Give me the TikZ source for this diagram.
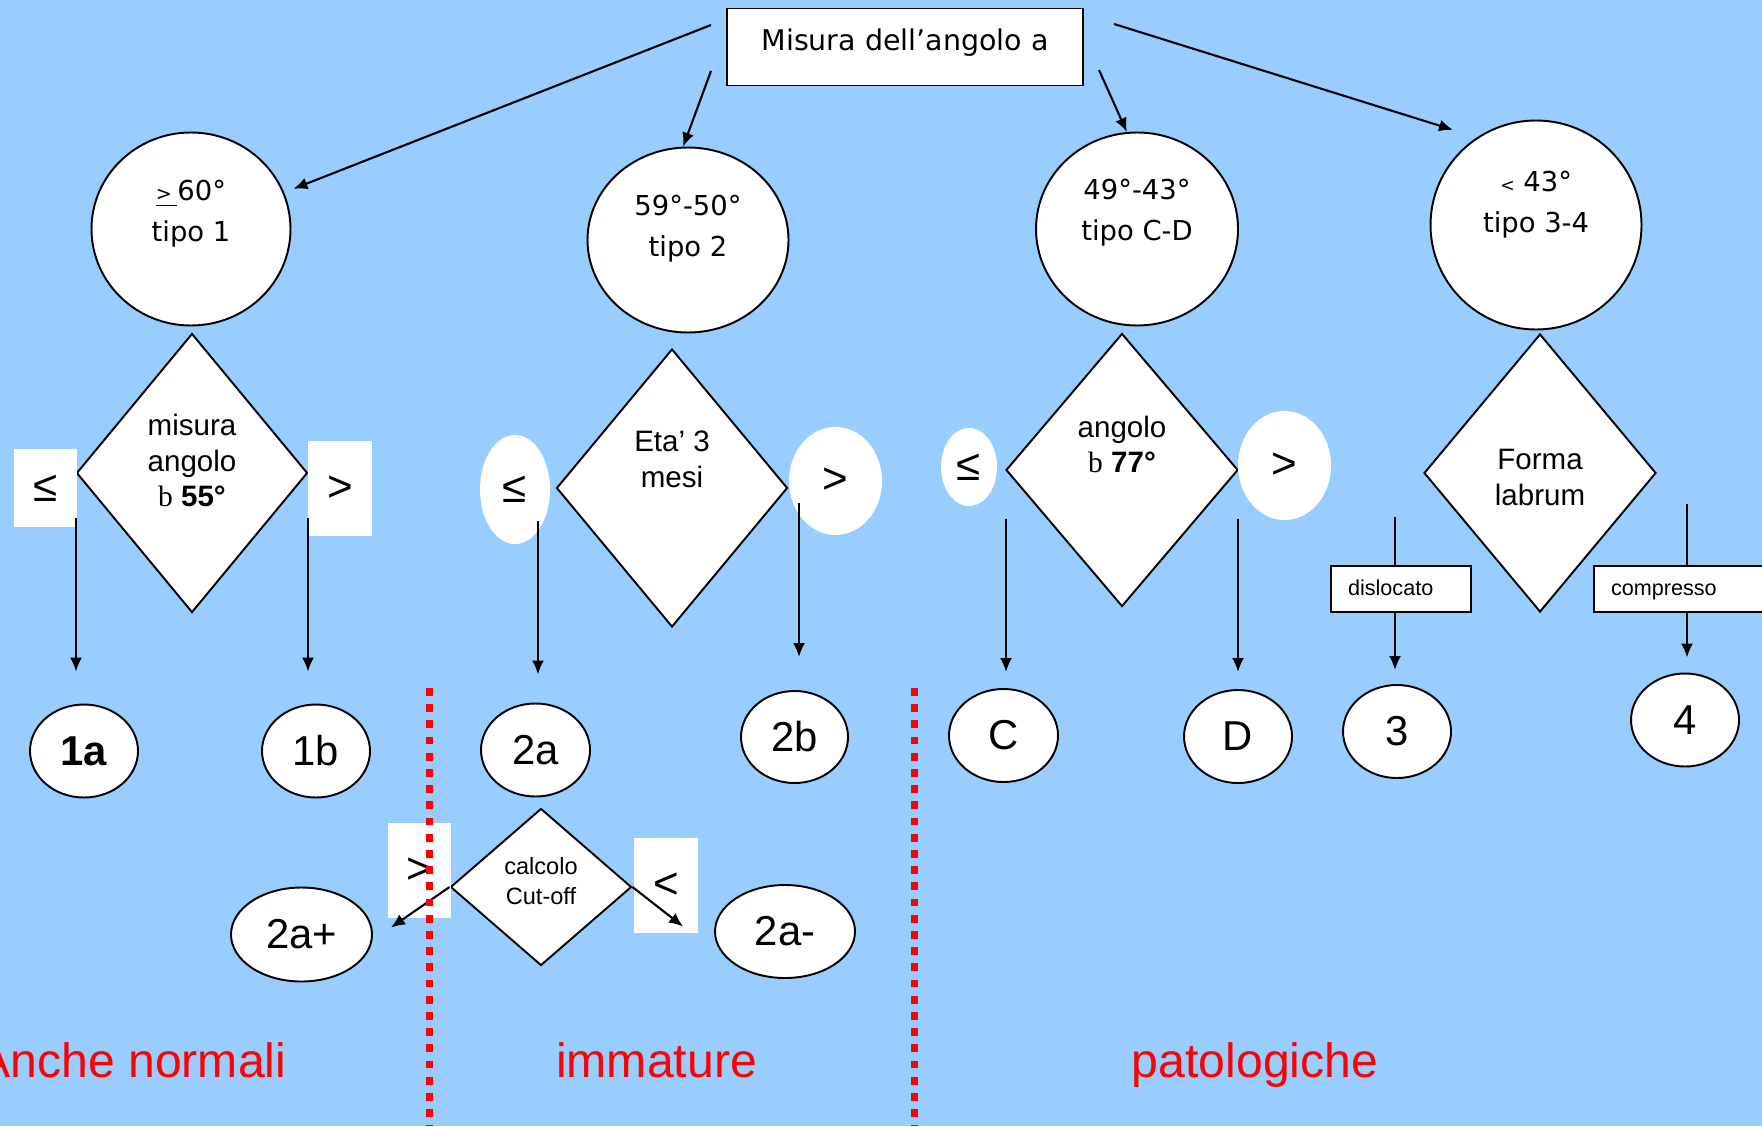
\documentclass[tikz,border=0pt]{standalone}
\usepackage{fontspec}
\setmainfont{Liberation Sans}
\newfontfamily\verdana{DejaVu Sans}
\newfontfamily\symfont{Liberation Serif}
\usetikzlibrary{arrows.meta,shapes.geometric}

\definecolor{sky}{RGB}{153,204,255}

\tikzset{
  shape line/.style={draw=black, fill=white, line width=0.55pt},
  titlebox/.style={shape line, inner sep=0pt, minimum width=3.56cm, minimum height=0.77cm},
  ring/.style={ellipse, shape line, inner sep=0pt},
  choice/.style={diamond, shape line, inner sep=0pt},
  oval/.style={ellipse, shape line, inner sep=0pt, minimum width=1.08cm, minimum height=0.93cm, font=\fontsize{11.9}{12}\selectfont},
  wideoval/.style={oval, minimum width=1.41cm, minimum height=0.94cm},
  sign/.style={fill=white, inner sep=0pt, font=\fontsize{12.5}{13}\selectfont},
  signoval/.style={sign, ellipse},
  tagbox/.style={shape line, inner xsep=0.17cm, inner ysep=0pt, minimum height=0.46cm, text height=0.12cm, text depth=0pt, align=left, font=\fontsize{6.15}{7}\selectfont},
  ringtext/.style={align=center, font=\verdana\fontsize{7.8}{11.7}\selectfont},
  choicetext/.style={align=center, font=\fontsize{8.4}{10.2}\selectfont},
  arr/.style={-{Latex[length=0.14cm,width=0.12cm]}, line width=0.6pt},
  wire/.style={line width=0.6pt},
  divider/.style={red, line width=0.07cm, dash pattern=on 0.077cm off 0.085cm},
  zone/.style={red, inner sep=0pt, font=\fontsize{13.7}{14}\selectfont, anchor=base},
}

\begin{document}
\begin{tikzpicture}
  \useasboundingbox (0,0) rectangle (17.62,-11.26);
  \fill[sky] (0,0) rectangle (17.62,-11.26);
  \clip (0,0) rectangle (17.62,-11.26);

  % first question
  \node[titlebox, label={[name=toptxt, font=\verdana\fontsize{8.1}{9}\selectfont, yshift=0.045cm]center:Misura dell’angolo a}] (top) at (9.05,-0.47) {};

  % classes of the angle
  \node[ring, minimum width=1.99cm, minimum height=1.93cm,
    label={[name=c1txt, ringtext, yshift=0.15cm]center:{\underline{{\fontsize{5.5}{6}\selectfont >}\kern1.5pt}60°\\tipo 1}}] (c1) at (1.91,-2.29) {};
  \node[ring, minimum width=2.01cm, minimum height=1.85cm,
    label={[name=c2txt, ringtext, yshift=0.115cm]center:{59°-50°\\tipo 2}}] (c2) at (6.88,-2.40) {};
  \node[ring, minimum width=2.02cm, minimum height=1.93cm,
    label={[name=c3txt, ringtext, yshift=0.16cm]center:{49°-43°\\tipo C-D}}] (c3) at (11.37,-2.29) {};
  \node[ring, minimum width=2.11cm, minimum height=2.09cm,
    label={[name=c4txt, ringtext, yshift=0.20cm]center:{{\fontsize{5}{6}\selectfont <} 43°\\tipo 3-4}}] (c4) at (15.36,-2.25) {};

  % second questions
  \node[choice, minimum width=2.31cm, minimum height=2.79cm,
    label={[name=d1txt, choicetext, yshift=0.125cm]center:{misura\\angolo\\{\symfont b} \textbf{55°}}}] (d1) at (1.92,-4.73) {};
  \node[choice, minimum width=2.31cm, minimum height=2.78cm,
    label={[name=d2txt, choicetext, yshift=0.29cm]center:{Eta’ 3\\mesi}}] (d2) at (6.72,-4.88) {};
  \node[choice, minimum width=2.32cm, minimum height=2.73cm,
    label={[name=d3txt, choicetext, yshift=0.255cm]center:{angolo\\{\symfont b} \textbf{77°}}}] (d3) at (11.22,-4.70) {};
  \node[choice, minimum width=2.32cm, minimum height=2.78cm,
    label={[name=d4txt, choicetext, yshift=-0.045cm]center:{Forma\\labrum}}] (d4) at (15.40,-4.73) {};
  \node[choice, minimum width=1.81cm, minimum height=1.57cm,
    label={[name=d5txt, align=center, font=\fontsize{6.7}{8.5}\selectfont, yshift=0.055cm]center:{calcolo\\Cut-off}}] (d5) at (5.41,-8.87) {};

  % branch signs
  \node[sign, minimum width=0.63cm, minimum height=0.78cm] (le1) at (0.455,-4.88) {≤};
  \node[sign, minimum width=0.64cm, minimum height=0.95cm] (gt1) at (3.40,-4.885) {>};
  \node[signoval, minimum width=0.70cm, minimum height=1.09cm] (le2) at (5.15,-4.895) {≤};
  \node[signoval, minimum width=0.93cm, minimum height=1.08cm] (gt2) at (8.355,-4.81) {>};
  \node[signoval, minimum width=0.56cm, minimum height=0.78cm] (le3) at (9.69,-4.67) {≤};
  \node[signoval, minimum width=0.93cm, minimum height=1.09cm] (gt3) at (12.845,-4.655) {>};
  \node[sign, minimum width=0.63cm, minimum height=0.95cm] (gt4) at (4.195,-8.705) {>};
  \node[sign, minimum width=0.64cm, minimum height=0.95cm] (lt4) at (6.66,-8.855) {<};
  \node[tagbox, text width=1.06cm] (disl) at (14.01,-5.89) {dislocato};
  \node[tagbox, text width=1.56cm] (comp) at (16.89,-5.89) {compresso};

  % outcomes
  \node[oval] (o1a) at (0.84,-7.51) {\textbf{1a}};
  \node[oval] (o1b) at (3.16,-7.51) {1b};
  \node[oval, minimum width=1.09cm] (o2a) at (5.355,-7.50) {2a};
  \node[oval, minimum width=1.07cm, minimum height=0.92cm] (o2b) at (7.945,-7.37) {2b};
  \node[oval, minimum width=1.09cm] (oc) at (10.035,-7.355) {C};
  \node[oval] (od) at (12.38,-7.365) {D};
  \node[oval] (o3) at (13.97,-7.315) {3};
  \node[oval] (o4) at (16.85,-7.20) {4};
  \node[wideoval] (o2ap) at (3.015,-9.345) {2a+};
  \node[wideoval, minimum width=1.40cm, minimum height=0.93cm] (o2am) at (7.85,-9.315) {2a-};

  % arrows from the first question
  \coordinate (s1) at (7.11,-0.25);
  \coordinate (s2) at (7.11,-0.71);
  \coordinate (s3) at (10.99,-0.70);
  \coordinate (s4) at (11.14,-0.24);
  \draw[arr, shorten >=0.1cm] (s1) -- (c1);
  \draw[arr] (s2) -- (c2.93);
  \draw[arr] (s3) -- (c3.96);
  \draw[arr, shorten >=0.25cm] (s4) -- (c4.124);

  % drops to the outcomes
  \coordinate (b1) at (0.76,-5.18);
  \coordinate (b2) at (3.08,-5.18);
  \coordinate (b3) at (5.38,-5.21);
  \coordinate (b4) at (7.99,-5.03);
  \coordinate (b5) at (10.06,-5.19);
  \coordinate (b6) at (12.38,-5.19);
  \coordinate (b7) at (13.95,-5.17);
  \coordinate (b8) at (16.87,-5.04);
  \draw[arr, shorten >=0.32cm] (b1) -- (b1 |- o1a.north);
  \draw[arr, shorten >=0.32cm] (b2) -- (b2 |- o1b.north);
  \draw[arr, shorten >=0.28cm] (b3) -- (b3 |- o2a.north);
  \draw[arr, shorten >=0.33cm] (b4) -- (b4 |- o2b.north);
  \draw[arr, shorten >=0.16cm] (b5) -- (b5 |- oc.north);
  \draw[arr, shorten >=0.17cm] (b6) -- (b6 |- od.north);
  \draw[wire] (b7) -- (b7 |- disl.north);
  \draw[arr, shorten >=0.14cm] (b7 |- disl.south) -- (b7 |- o3.north);
  \draw[wire] (b8) -- (b8 |- comp.north);
  \draw[arr, shorten >=0.15cm] (b8 |- comp.south) -- (b8 |- o4.north);

  % cut-off split
  \draw[arr] (d5.west) -- ([shift={(0.18,0.07)}]o2ap.east);
  \draw[arr] (d5.east) -- ([shift={(-0.31,0.05)}]o2am.west);

  % groups
  \draw[divider] (4.29,-6.88) -- (4.29,-11.26);
  \draw[divider] (9.14,-6.88) -- (9.14,-11.26);
  \node[zone, anchor=base east] (normal) at (2.87,-10.77) {Anche normali};
  \node[zone] (immat) at (6.565,-10.77) {immature};
  \node[zone] (patol) at (12.55,-10.77) {patologiche};
\end{tikzpicture}
\end{document}
